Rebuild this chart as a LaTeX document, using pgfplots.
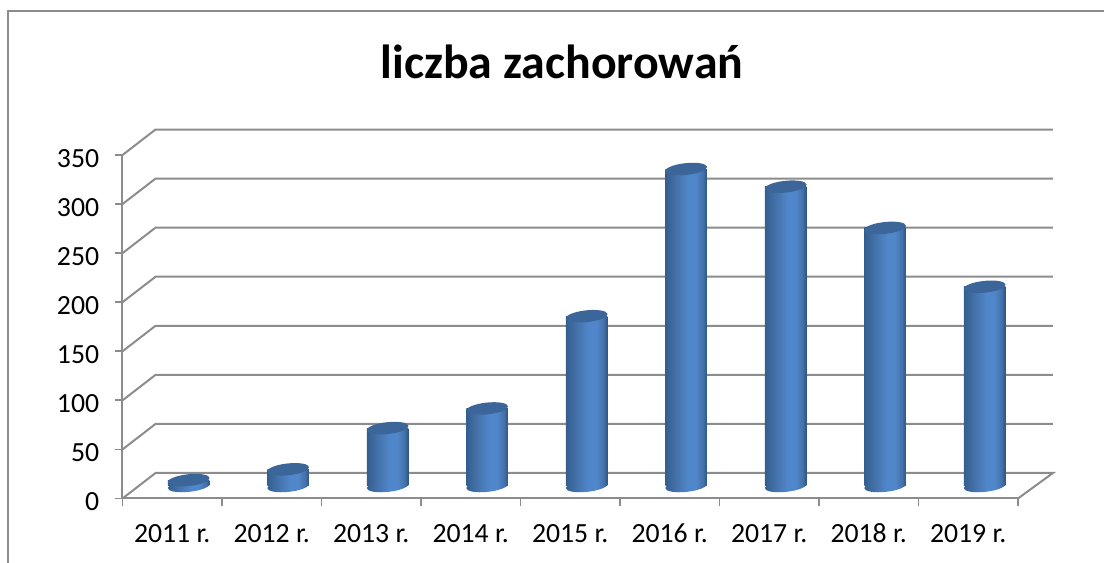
\documentclass[border=0pt]{standalone}
\usepackage{fontspec}
\setmainfont{Carlito}
\usepackage{pgfplots}
\pgfplotsset{compat=1.18}
\definecolor{axgray}{HTML}{8C8C8C}
\definecolor{capcol}{HTML}{3C6699}
\definecolor{barA}{HTML}{345E8F}
\definecolor{barB}{HTML}{4472AA}
\definecolor{barC}{HTML}{5086CA}
\definecolor{barD}{HTML}{2F5480}
\pgfdeclarehorizontalshading{barshade}{100bp}{
  color(0bp)=(barA);
  color(25bp)=(barA);
  color(38bp)=(barB);
  color(52bp)=(barC);
  color(62bp)=(barC);
  color(70bp)=(barB);
  color(75bp)=(barD);
  color(100bp)=(barD)
}
\pgfdeclareplotmark{topcap}{%
  \pgfpathellipse{\pgfpointorigin}{\pgfpoint{15.66pt}{1.65pt}}{\pgfpoint{-0.45pt}{4.4pt}}%
  \pgfsetfillcolor{capcol}\pgfusepathqfill
}
\pgfdeclareplotmark{botcap}{%
  \pgfpathellipse{\pgfpointorigin}{\pgfpoint{15.66pt}{1.65pt}}{\pgfpoint{-0.45pt}{4.4pt}}%
  \pgfshadepath{barshade}{0}\pgfusepath{discard}
}
\pgfplotstableread{
x v
0.5 6
1.5 17
2.5 59
3.5 79
4.5 173
5.5 323
6.5 305
7.5 263
8.5 203
}\datatable
\pgfplotstableread{
x v
0.5 0
1.5 0
2.5 0
3.5 0
4.5 0
5.5 0
6.5 0
7.5 0
8.5 0
}\basetable
\pgfplotsset{cylbar/.style={ybar,bar width=31.2pt,bar shift=0pt,draw=none,shade,shading=barshade}}
\begin{document}
\begin{tikzpicture}[x=1pt,y=1pt]
\path[use as bounding box] (0,0) rectangle (828,422.25);
\draw[axgray,line width=1.5pt] (6.3,-2) -- (6.3,414.1) -- (830,414.1);
\node[font=\bfseries\fontsize{35.9}{36}\selectfont,anchor=center] at (421.5,376) {liczba zachorowań};
\begin{axis}[
  at={(91.875pt,48.375pt)},anchor=south west,
  scale only axis,width=671.6pt,height=257.6pt,
  xmin=0,xmax=9,ymin=0,ymax=350,clip=false,
  axis x line*=bottom,axis y line*=left,
  axis line style={axgray,line width=1.5pt,-},
  every tick/.style={axgray,line width=1.3pt},
  xtick={0.5,1.5,2.5,3.5,4.5,5.5,6.5,7.5,8.5},
  xticklabels={2011 r.,2012 r.,2013 r.,2014 r.,2015 r.,2016 r.,2017 r.,2018 r.,2019 r.},
  minor xtick={0,1,2,3,4,5,6,7,8,9},
  major x tick style={draw=none},
  minor x tick style={axgray,line width=1.3pt},
  tick align=outside,
  tickwidth=5.5pt,subtickwidth=6pt,
  ytick={0,50,100,150,200,250,300,350},
  /pgf/number format/assume math mode=true,
  tick label style={font=\fontsize{20.8}{20.8}\selectfont,text=black},
  xticklabel style={yshift=-11.2pt,text height=13pt,text depth=0pt},
  yticklabel style={xshift=-8.5pt,yshift=-2.6pt},
]
\addplot[axgray,line width=1.5pt] coordinates {(0,0) (0.332,26) (9.352,26) (9,0)};
\addplot[axgray,line width=1.5pt] coordinates {(0,50) (0.332,76) (9.352,76)};
\addplot[axgray,line width=1.5pt] coordinates {(0,100) (0.332,126) (9.352,126)};
\addplot[axgray,line width=1.5pt] coordinates {(0,150) (0.332,176) (9.352,176)};
\addplot[axgray,line width=1.5pt] coordinates {(0,200) (0.332,226) (9.352,226)};
\addplot[axgray,line width=1.5pt] coordinates {(0,250) (0.332,276) (9.352,276)};
\addplot[axgray,line width=1.5pt] coordinates {(0,300) (0.332,326) (9.352,326)};
\addplot[axgray,line width=1.5pt] coordinates {(0,350) (0.332,376) (9.352,376)};
\end{axis}
\begin{axis}[
  at={(104.2pt,57.75pt)},anchor=south west,
  scale only axis,width=671.6pt,height=257.6pt,
  xmin=0,xmax=9,ymin=0,ymax=350,clip=false,
  hide axis,
]
\addplot[only marks,mark=botcap] table[x=x,y=v]{\basetable};
\addplot[cylbar] coordinates {(0.5,6)};
\addplot[cylbar] coordinates {(1.5,17)};
\addplot[cylbar] coordinates {(2.5,59)};
\addplot[cylbar] coordinates {(3.5,79)};
\addplot[cylbar] coordinates {(4.5,173)};
\addplot[cylbar] coordinates {(5.5,323)};
\addplot[cylbar] coordinates {(6.5,305)};
\addplot[cylbar] coordinates {(7.5,263)};
\addplot[cylbar] coordinates {(8.5,203)};
\addplot[only marks,mark=topcap] table[x=x,y=v]{\datatable};
\end{axis}
\end{tikzpicture}
\end{document}
